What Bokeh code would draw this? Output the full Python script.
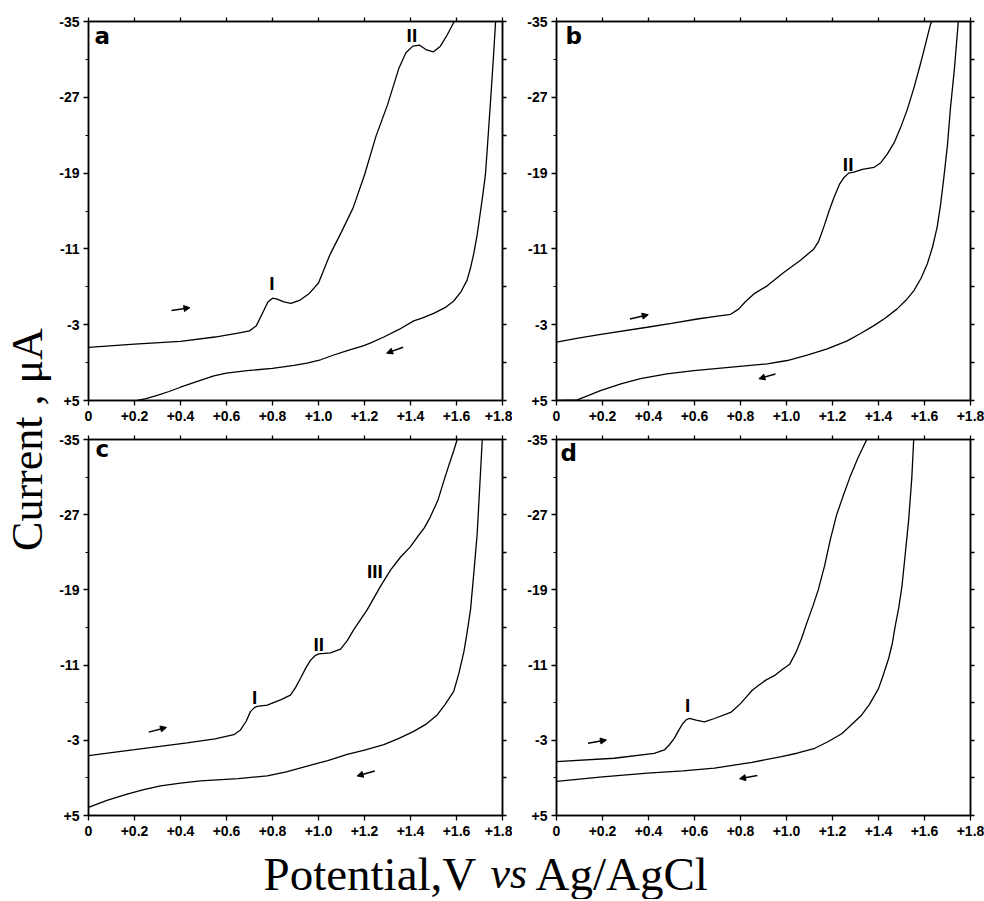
import math
from bokeh.plotting import figure
from bokeh.models import (Range1d, FixedTicker, LinearAxis, CustomJSTickFormatter,
                          Label, Arrow, NormalHead)
from bokeh.layouts import row, column
from bokeh.embed import file_html
from bokeh.resources import INLINE

# ---------------- data ----------------
x_ticks = [0, 0.2, 0.4, 0.6, 0.8, 1.0, 1.2, 1.4, 1.6, 1.8]
y_ticks = [-35, -27, -19, -11, -3, 5]
y_minor_ticks = [-31, -23, -15, -7, 1]

# panel a
a_fwd_x = [0, 0.2, 0.4, 0.55, 0.65, 0.70, 0.73, 0.76, 0.78, 0.80, 0.82, 0.85, 0.88, 0.92,
           0.96, 1.00, 1.05, 1.10, 1.15, 1.20, 1.25, 1.30, 1.35, 1.38, 1.41, 1.44, 1.47,
           1.50, 1.53, 1.56, 1.59]
a_fwd_y = [-0.6, -0.95, -1.25, -1.7, -2.1, -2.35, -2.9, -4.4, -5.4, -5.8, -5.7, -5.4, -5.25,
           -5.6, -6.3, -7.4, -10.4, -12.8, -15.3, -18.8, -22.9, -26.2, -30.1, -31.7, -32.4,
           -32.5, -32.0, -31.8, -32.4, -33.6, -35.0]
a_rev_x = [1.770, 1.760, 1.748, 1.735, 1.726, 1.715, 1.704, 1.690, 1.675, 1.660, 1.646, 1.62,
           1.588, 1.55, 1.501, 1.45, 1.414, 1.35, 1.284, 1.23, 1.197, 1.125, 1.06, 1.009, 0.95,
           0.893, 0.80, 0.690, 0.60, 0.545, 0.47, 0.40, 0.35, 0.299, 0.25, 0.212]
a_rev_y = [-35, -31, -26.6, -22, -18.9, -16.8, -14.9, -12.5, -10.5, -8.9, -7.7, -6.5, -5.5,
           -4.8, -4.2, -3.7, -3.4, -2.5, -1.7, -1.1, -0.8, -0.27, 0.25, 0.7, 1.05, 1.3, 1.6,
           1.85, 2.1, 2.4, 3.0, 3.6, 4.05, 4.45, 4.8, 5.0]

# panel b
b_fwd_x = [0, 0.1, 0.2, 0.394, 0.5, 0.612, 0.70, 0.757, 0.793, 0.82, 0.858, 0.916, 0.988,
           1.061, 1.119, 1.14, 1.162, 1.185, 1.206, 1.23, 1.249, 1.27, 1.293, 1.33, 1.38,
           1.41, 1.438, 1.47, 1.496, 1.525, 1.554, 1.58, 1.597, 1.626, 1.632]
b_fwd_y = [-1.15, -1.6, -2.0, -2.73, -3.15, -3.6, -3.9, -4.1, -4.67, -5.4, -6.25, -7.1, -8.5,
           -9.8, -11.0, -11.8, -13.3, -15.0, -16.4, -17.8, -18.5, -19.0, -19.1, -19.4, -19.6,
           -20.1, -21.0, -22.3, -23.8, -25.7, -28.0, -30.3, -31.9, -34.7, -35.0]
b_rev_x = [1.747, 1.73, 1.713, 1.70, 1.684, 1.67, 1.655, 1.635, 1.612, 1.585, 1.554, 1.52,
           1.481, 1.43, 1.380, 1.32, 1.264, 1.177, 1.09, 1.003, 0.916, 0.75, 0.597, 0.48,
           0.365, 0.28, 0.191, 0.14, 0.090, 0.0]
b_rev_y = [-35, -30, -25.9, -22, -18.5, -15.7, -13.3, -11.2, -9.4, -7.9, -6.6, -5.6, -4.67,
           -3.7, -2.9, -2.05, -1.3, -0.45, 0.2, 0.78, 1.13, 1.5, 1.84, 2.2, 2.7, 3.25, 3.95,
           4.45, 4.93, 5.0]

# panel c
c_fwd_x = [0, 0.2, 0.429, 0.55, 0.632, 0.661, 0.685, 0.704, 0.72, 0.733, 0.777, 0.835, 0.878,
           0.90, 0.922, 0.945, 0.965, 0.985, 1.001, 1.052, 1.096, 1.125, 1.154, 1.212, 1.270,
           1.313, 1.357, 1.40, 1.429, 1.46, 1.487, 1.52, 1.545, 1.57, 1.588, 1.603]
c_fwd_y = [-1.38, -2.0, -2.72, -3.15, -3.6, -4.1, -5.0, -6.05, -6.45, -6.6, -6.75, -7.3, -7.8,
           -8.6, -9.6, -10.7, -11.5, -12.0, -12.2, -12.3, -12.7, -13.6, -14.8, -16.9, -19.4,
           -21.1, -22.5, -23.6, -24.6, -25.6, -26.8, -28.6, -30.6, -32.5, -33.8, -35.0]
c_rev_x = [1.712, 1.70, 1.690, 1.675, 1.661, 1.645, 1.632, 1.61, 1.588, 1.55, 1.516, 1.47,
           1.414, 1.35, 1.284, 1.20, 1.125, 1.04, 0.951, 0.86, 0.777, 0.65, 0.487, 0.40,
           0.313, 0.24, 0.168, 0.08, 0.0]
c_rev_y = [-35, -29.5, -25.0, -20.7, -16.9, -14.3, -12.4, -10.1, -8.2, -6.8, -5.7, -4.75,
           -3.95, -3.2, -2.54, -1.95, -1.49, -0.85, -0.26, 0.35, 0.79, 1.08, 1.32, 1.55, 1.84,
           2.25, 2.72, 3.4, 4.13]

# panel d
d_fwd_x = [0, 0.25, 0.425, 0.469, 0.49, 0.512, 0.53, 0.549, 0.565, 0.578, 0.607, 0.643, 0.687,
           0.760, 0.80, 0.818, 0.85, 0.876, 0.91, 0.949, 0.98, 1.014, 1.04, 1.065, 1.09, 1.115,
           1.138, 1.165, 1.19, 1.218, 1.245, 1.276, 1.31, 1.349]
d_fwd_y = [-0.74, -1.09, -1.62, -1.97, -2.5, -3.2, -4.0, -4.79, -5.2, -5.32, -5.14, -4.96,
           -5.32, -6.0, -6.9, -7.4, -8.3, -8.8, -9.4, -9.9, -10.5, -11.1, -12.3, -13.8, -15.6,
           -17.3, -19.0, -21.5, -24.3, -27.0, -28.9, -31.0, -33.0, -35.0]
d_rev_x = [1.553, 1.545, 1.531, 1.515, 1.502, 1.488, 1.473, 1.46, 1.444, 1.42, 1.400, 1.36,
           1.327, 1.28, 1.240, 1.18, 1.123, 1.05, 0.978, 0.85, 0.687, 0.55, 0.396, 0.2, 0.0]
d_rev_y = [-35, -31, -26.4, -22.5, -19.4, -17.1, -15.2, -13.3, -11.7, -9.9, -8.5, -6.8, -5.7,
           -4.6, -3.7, -2.85, -2.15, -1.65, -1.27, -0.65, -0.04, 0.25, 0.49, 0.9, 1.37]

# peak annotations: (text, potential, current)
a_peaks = [("I", 0.797, -7.4), ("II", 1.406, -33.5)]
b_peaks = [("II", 1.268, -19.9)]
c_peaks = [("I", 0.722, -7.6), ("II", 1.001, -13.2), ("III", 1.245, -21.0)]
d_peaks = [("I", 0.570, -6.7)]

# scan-direction arrows: (x_start, y_start, x_end, y_end)
a_arrows = [(0.361, -4.5, 0.441, -4.8), (1.368, -0.62, 1.296, 0.0)]
b_arrows = [(0.319, -3.6, 0.399, -4.05), (0.952, 2.2, 0.880, 2.7)]
c_arrows = [(0.262, -3.87, 0.339, -4.37), (1.245, 0.27, 1.168, 0.79)]
d_arrows = [(0.137, -2.68, 0.217, -3.03), (0.873, 0.74, 0.796, 1.09)]

# ---------------- styling helpers ----------------
TICK_FONT = "Liberation Sans"
X_FMT = CustomJSTickFormatter(code="""
if (Math.abs(tick) < 1e-6) { return '0'; }
return (tick > 0 ? '+' : '') + tick.toFixed(1);
""")
Y_FMT = CustomJSTickFormatter(code="""
return (tick > 0 ? '+' : '') + tick.toFixed(0);
""")


def style_axis(ax, out, minor_out=0):
    ax.axis_line_color = "black"
    ax.axis_line_width = 1.5
    ax.major_tick_line_color = "black"
    ax.major_tick_line_width = 1.3
    ax.major_tick_in = 0
    ax.major_tick_out = out
    ax.minor_tick_in = 0
    ax.minor_tick_out = minor_out
    ax.minor_tick_line_color = "black" if minor_out else None
    ax.minor_tick_line_width = 1.2
    ax.major_label_text_font = TICK_FONT
    ax.major_label_text_font_style = "bold"
    ax.major_label_text_font_size = "14px"
    ax.major_label_text_color = "black"


def blank_axis(ticks):
    ax = LinearAxis(ticker=FixedTicker(ticks=ticks),
                    formatter=CustomJSTickFormatter(code="return '';"))
    style_axis(ax, 4)
    ax.major_label_text_font_size = "0px"
    ax.major_label_standoff = 0
    ax.axis_label_standoff = 0
    return ax


def make_panel(letter, letter_xy, fx, fy, rx, ry, peaks, arrows, size, borders):
    w, h = size
    l, r, t, b = borders
    p = figure(width=w, height=h,
               x_range=Range1d(0, 1.8), y_range=Range1d(5, -35),
               output_backend="svg", toolbar_location=None,
               min_border_left=l, min_border_right=r,
               min_border_top=t, min_border_bottom=b,
               background_fill_color="white", border_fill_color="white")
    p.grid.visible = False
    p.outline_line_color = "black"
    p.outline_line_width = 1.5

    xa = p.xaxis[0]
    xa.ticker = FixedTicker(ticks=x_ticks)
    xa.formatter = X_FMT
    style_axis(xa, 5)
    xa.major_label_standoff = 5

    ya = p.yaxis[0]
    ya.ticker = FixedTicker(ticks=y_ticks, minor_ticks=y_minor_ticks)
    ya.formatter = Y_FMT
    style_axis(ya, 5, 3)
    ya.major_label_standoff = 4

    p.add_layout(blank_axis(sorted(y_ticks + y_minor_ticks)), "right")
    p.add_layout(blank_axis(x_ticks), "above")

    p.line(fx, fy, line_color="black", line_width=1.3)
    p.line(rx, ry, line_color="black", line_width=1.3)

    for txt, px, py in peaks:
        p.add_layout(Label(x=px, y=py, text=txt, text_align="center",
                           text_baseline="middle", text_font=TICK_FONT,
                           text_font_style="bold", text_font_size="19px",
                           text_color="black"))
    for x0, y0, x1, y1 in arrows:
        p.add_layout(Arrow(end=NormalHead(size=6, fill_color="black",
                                          line_color="black", line_width=1),
                           x_start=x0, y_start=y0, x_end=x1, y_end=y1,
                           line_color="black", line_width=1.5))
    p.add_layout(Label(x=letter_xy[0], y=letter_xy[1], text=letter,
                       text_align="left", text_baseline="middle",
                       text_font="DejaVu Sans", text_font_style="bold",
                       text_font_size="23px", text_color="black"))
    return p


# layout geometry (page origin at the window's top-left corner)
YLAB_W = 54
TOTAL_H = 899
ROW1_H = 430
ROW2_H = 418
A_W = 34 + 414 + 10
B_W = 984 - YLAB_W - A_W

pa = make_panel("a", (0.026, -33.45), a_fwd_x, a_fwd_y, a_rev_x, a_rev_y, a_peaks, a_arrows,
                (A_W, ROW1_H), (34, 10, 21, ROW1_H - 21 - 379))
pb = make_panel("b", (0.039, -33.5), b_fwd_x, b_fwd_y, b_rev_x, b_rev_y, b_peaks, b_arrows,
                (B_W, ROW1_H), (44, B_W - 44 - 414, 21, ROW1_H - 21 - 379))
pc = make_panel("c", (0.030, -34.0), c_fwd_x, c_fwd_y, c_rev_x, c_rev_y, c_peaks, c_arrows,
                (A_W, ROW2_H), (34, 10, 5, ROW2_H - 5 - 380))
pd = make_panel("d", (0.017, -33.6), d_fwd_x, d_fwd_y, d_rev_x, d_rev_y, d_peaks, d_arrows,
                (B_W, ROW2_H), (44, B_W - 44 - 414, 9, ROW2_H - 9 - 379))

# y-axis title panel
ylab = figure(width=YLAB_W, height=TOTAL_H, x_range=Range1d(0, YLAB_W),
              y_range=Range1d(0, TOTAL_H),
              x_axis_type=None, y_axis_type=None, output_backend="svg",
              toolbar_location=None, min_border=0, outline_line_color=None)
ylab.grid.visible = False
ylab.add_layout(Label(x=27, y=TOTAL_H - 439, text="Current , μA", angle=math.pi / 2,
                      text_align="center", text_baseline="middle",
                      text_font="Liberation Serif", text_font_size="44px",
                      text_color="black"))

# x-axis title panel
XLAB_W = 984 - YLAB_W
XLAB_TOP = ROW1_H + ROW2_H
XLAB_H = TOTAL_H - XLAB_TOP
TEXT_MID = 873
xlab = figure(width=XLAB_W, height=XLAB_H, x_range=Range1d(0, XLAB_W),
              y_range=Range1d(0, XLAB_H),
              x_axis_type=None, y_axis_type=None, output_backend="svg",
              toolbar_location=None, min_border=0, outline_line_color=None)
xlab.grid.visible = False
for txt, xpos, style, size in [("Potential,V", 263 - YLAB_W, "normal", "47px"),
                               ("vs", 490 - YLAB_W, "italic", "44px"),
                               ("Ag/AgCl", 535 - YLAB_W, "normal", "47px")]:
    xlab.add_layout(Label(x=xpos, y=XLAB_H - (TEXT_MID - XLAB_TOP), text=txt,
                          text_align="left", text_baseline="middle",
                          text_font="Liberation Serif", text_font_style=style,
                          text_font_size=size, text_color="black"))

layout = row(ylab, column(row(pa, pb), row(pc, pd), xlab))

open("out.html", "w").write(file_html(layout, INLINE))
